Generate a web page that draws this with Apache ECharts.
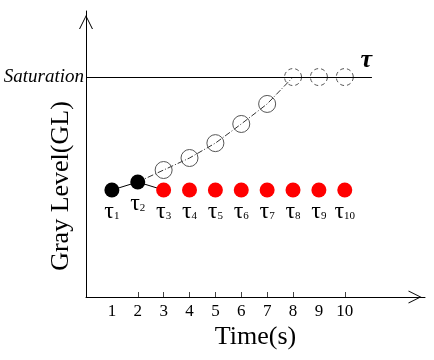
<!DOCTYPE html>
<html>
<head>
<meta charset="utf-8">
<script src="https://cdn.jsdelivr.net/npm/echarts@6/dist/echarts.min.js"></script>
<style>
  html, body { margin: 0; padding: 0; background: #fff; }
  #chart { width: 434px; height: 360px; }
</style>
</head>
<body>
<div id="chart"></div>
<script>
// time steps (s)
const timeLabels = [1, 2, 3, 4, 5, 6, 7, 8, 9, 10];
const tickValues = [2, 3, 4, 5, 6, 7, 8, 10];
// measured gray level (filled dots)
const measuredX = [1, 2];
const measuredGL = [37.4, 40.2];
// clipped / held level (red dots)
const heldX = [3, 4, 5, 6, 7, 8, 9, 10];
const heldGL = [37.4, 37.4, 37.4, 37.4, 37.4, 37.4, 37.4, 37.4];
// expected level without limit (open circles)
const expectedX = [3, 4, 5, 6, 7, 8, 9, 10];
const expectedGL = [44.4, 48.6, 53.8, 60.5, 67.5, 76.9, 76.9, 76.9];
const saturation = 76.9;
const saturationEnd = 11.05;

const serif = "'Liberation Serif', 'DejaVu Serif', serif";

// 下标 τ 标签
const tauLabel = (i) => "{t|τ}{s|" + i + "}";
const tauRich = {
  t: { fontFamily: serif, fontSize: 24, color: "#000", lineHeight: 24 },
  s: { fontFamily: serif, fontSize: 11, color: "#000", lineHeight: 24, verticalAlign: "bottom", padding: [0, 0, 2, 0] },
};

const chart = echarts.init(document.getElementById("chart"));

const arrow = "path://M0,20 L10,0 L20,20 L18.5,20 L10,3 L1.5,20 Z";

chart.setOption({
  animation: false,
  grid: { left: 86, right: 9, top: 11, bottom: 63, outerBoundsMode: "none", containLabel: false },
  xAxis: {
    type: "value",
    min: 0,
    max: 13.1,
    name: "Time(s)",
    nameLocation: "middle",
    nameGap: 27,
    nameMoveOverlap: false,
    nameTextStyle: { fontFamily: serif, fontSize: 26, color: "#000" },
    axisLine: {
      lineStyle: { color: "#000", width: 1 },
      symbol: ["none", arrow],
      symbolSize: [13, 20],
      symbolOffset: [0, -10],
    },
    axisTick: { show: true, inside: true, length: 5, customValues: tickValues, lineStyle: { color: "#444" } },
    axisLabel: {
      customValues: timeLabels,
      fontFamily: serif,
      fontSize: 17,
      color: "#000",
      margin: 6,
    },
    splitLine: { show: false },
  },
  yAxis: {
    type: "value",
    min: 0,
    max: 100,
    name: "Gray Level(GL)",
    nameLocation: "middle",
    nameGap: 12,
    nameMoveOverlap: false,
    nameTextStyle: { fontFamily: serif, fontSize: 26, color: "#000", padding: [0, 64, 0, 0] },
    axisLine: {
      show: true,
      lineStyle: { color: "#000", width: 1 },
      symbol: ["none", arrow],
      symbolSize: [14, 22],
      symbolOffset: [0, -11],
    },
    axisTick: { show: false },
    axisLabel: {
      customValues: [saturation],
      formatter: () => "Saturation",
      fontFamily: serif,
      fontStyle: "italic",
      fontSize: 19,
      color: "#000",
      margin: 2,
    },
    splitLine: { show: false },
  },
  series: [
    {
      name: "trend",
      type: "line",
      data: [[measuredX[1], measuredGL[1]]].concat(
        expectedX.slice(0, 6).map((x, i) => [x, expectedGL[i]])
      ),
      symbol: "none",
      lineStyle: { color: "#333", width: 1, type: [6, 2, 1, 2] },
      z: 2,
      markLine: {
        silent: true,
        symbol: "none",
        lineStyle: { color: "#000", width: 1, type: "solid" },
        label: {
          show: true,
          position: "insideEndTop",
          formatter: "τ",
          fontFamily: serif,
          fontSize: 26,
          fontWeight: "bold",
          fontStyle: "italic",
          color: "#000",
          distance: [0, 4],
        },
        data: [[{ coord: [0, saturation] }, { coord: [saturationEnd, saturation] }]],
      },
    },
    {
      name: "path",
      type: "line",
      data: [
        [measuredX[0], measuredGL[0]],
        [measuredX[1], measuredGL[1]],
        [heldX[0], heldGL[0]],
      ],
      symbol: "none",
      lineStyle: { color: "#000", width: 1 },
      z: 2,
    },
    {
      name: "expected",
      type: "scatter",
      data: expectedX.map((x, i) => ({
        value: [x, expectedGL[i]],
        itemStyle: { borderType: expectedGL[i] >= saturation ? [4, 3] : "solid" },
      })),
      symbol: "circle",
      symbolSize: 17,
      itemStyle: { color: "rgba(0,0,0,0)", borderColor: "#555", borderWidth: 1, opacity: 1 },
      z: 3,
    },
    {
      name: "measured",
      type: "scatter",
      data: measuredX.map((x, i) => [x, measuredGL[i]]),
      symbolSize: 15,
      itemStyle: { color: "#000", opacity: 1 },
      label: {
        show: true,
        position: "bottom",
        distance: 2,
        formatter: (p) => tauLabel(p.value[0]),
        rich: tauRich,
      },
      z: 4,
    },
    {
      name: "held",
      type: "scatter",
      data: heldX.map((x, i) => [x, heldGL[i]]),
      symbolSize: 15,
      itemStyle: { color: "#ff0000", opacity: 1 },
      label: {
        show: true,
        position: "bottom",
        distance: 2,
        formatter: (p) => tauLabel(p.value[0]),
        rich: tauRich,
      },
      z: 4,
    },
  ],
});
</script>
</body>
</html>
